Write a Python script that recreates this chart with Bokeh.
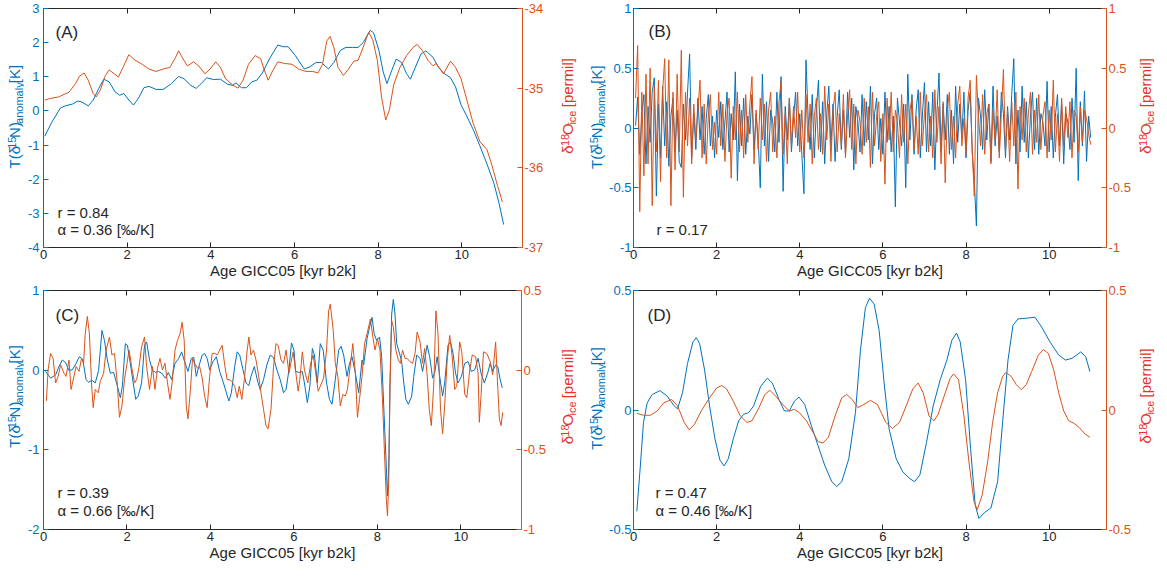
import math
import numpy as np
from bokeh.plotting import figure
from bokeh.models import (Range1d, LinearAxis, FixedTicker, Label, CustomJSTickFormatter,
                          CustomLabelingPolicy)
from bokeh.layouts import column, row
from bokeh.embed import file_html
from bokeh.resources import INLINE

FONT = "Liberation Sans"
BLUE = "#0072BD"
ORANGE = "#D95319"
DARK = "#262626"
LLAB = "#0072BD"
RLAB = "#E6332A"

# ---------------- data ----------------
AGE_TICKS = [0, 2, 4, 6, 8, 10]

# Panel A
a_blue_x = [0.03, 0.19, 0.4, 0.52, 0.69, 0.82, 0.9, 1.07, 1.19, 1.32, 1.44, 1.57, 1.71, 1.82, 1.92, 2.04, 2.15, 2.27, 2.4, 2.52,
            2.69, 2.86, 3.06, 3.23, 3.36, 3.52, 3.65, 3.77, 3.9, 4.06, 4.23, 4.4, 4.52, 4.6, 4.73, 4.85, 4.98, 5.1, 5.23, 5.4,
            5.6, 5.73, 5.85, 6.02, 6.23, 6.35, 6.52, 6.64, 6.81, 6.94, 7.1, 7.23, 7.39, 7.52, 7.64, 7.81, 7.89, 8.02, 8.12, 8.21,
            8.31, 8.43, 8.56, 8.68, 8.77, 8.89, 9.02, 9.14, 9.31, 9.43, 9.56, 9.73, 9.85, 9.98, 10.1, 10.27, 10.43, 10.6, 10.77, 10.89, 11.0]
a_blue_y = [-0.74, -0.35, 0.08, 0.15, 0.2, 0.29, 0.27, 0.15, 0.32, 0.66, 0.93, 0.85, 0.56, 0.46, 0.51, 0.32, 0.17, 0.37, 0.68, 0.72,
            0.63, 0.63, 0.8, 1.01, 0.94, 0.75, 0.66, 0.8, 0.97, 0.92, 0.93, 0.78, 0.75, 0.82, 0.68, 0.68, 0.85, 0.9, 1.11, 1.52,
            1.93, 1.88, 1.88, 1.62, 1.23, 1.28, 1.42, 1.42, 1.23, 1.42, 1.78, 1.86, 1.86, 1.86, 2.0, 2.36, 2.29, 1.76, 1.14, 0.8,
            1.14, 1.52, 1.42, 1.09, 0.93, 1.28, 1.66, 1.76, 1.57, 1.3, 1.11, 0.97, 0.7, 0.18, -0.11, -0.54, -1.02, -1.55, -2.13, -2.71, -3.33]
a_orange_x = [0.03, 0.15, 0.36, 0.61, 0.77, 0.86, 0.97, 1.07, 1.19, 1.26, 1.36, 1.48, 1.57, 1.69, 1.79, 1.9, 2.04, 2.19, 2.36, 2.52,
              2.69, 2.86, 3.02, 3.15, 3.23, 3.31, 3.44, 3.59, 3.71, 3.86, 3.98, 4.12, 4.23, 4.35, 4.52, 4.65, 4.77, 4.9, 5.06, 5.19,
              5.27, 5.37, 5.48, 5.6, 5.77, 5.94, 6.1, 6.27, 6.44, 6.56, 6.67, 6.77, 6.85, 6.94, 7.04, 7.17, 7.29, 7.42, 7.52, 7.64,
              7.77, 7.87, 7.98, 8.08, 8.18, 8.27, 8.37, 8.52, 8.68, 8.83, 8.93, 9.06, 9.19, 9.31, 9.39, 9.56, 9.73, 9.85, 9.98, 10.1,
              10.27, 10.43, 10.6, 10.72, 10.85, 10.97]
a_orange_y = [-35.15, -35.13, -35.11, -35.05, -34.94, -34.85, -34.81, -34.9, -35.07, -35.11, -35.02, -34.84, -34.77, -34.82, -34.86,
              -34.74, -34.58, -34.65, -34.7, -34.76, -34.79, -34.76, -34.74, -34.62, -34.53, -34.61, -34.72, -34.67, -34.72, -34.82,
              -34.76, -34.67, -34.74, -34.88, -34.96, -35.0, -34.9, -34.7, -34.59, -34.63, -34.76, -34.9, -34.78, -34.67, -34.69,
              -34.7, -34.76, -34.79, -34.79, -34.81, -34.7, -34.41, -34.35, -34.49, -34.74, -34.84, -34.76, -34.66, -34.65, -34.49,
              -34.3, -34.39, -34.65, -35.11, -35.4, -35.27, -34.96, -34.74, -34.59, -34.49, -34.45, -34.53, -34.65, -34.72, -34.69,
              -34.82, -34.66, -34.74, -34.88, -35.11, -35.44, -35.67, -35.77, -35.97, -36.22, -36.43]

# Panel B (20-yr resolution series, every 0.05 kyr from 0.05 to 11.0)
b_age = list(np.round(np.arange(1, 221) * 0.05, 2))
b_blue = [0.02, 0.26, -0.22, 0.12, 0.28, -0.30, 0.18, -0.12, 0.30, 0.42,
          -0.57, 0.20, -0.25, 0.35, -0.15, 0.22, -0.32, 0.10, 0.25, -0.20,
          0.15, -0.28, -0.33, 0.20, -0.10, 0.30, 0.62, -0.25, 0.12, -0.18,
          0.25, -0.10, 0.18, -0.22, 0.08, 0.28, -0.15, 0.10, -0.25, 0.15,
          -0.08, 0.22, -0.18, 0.05, 0.30, -0.20, 0.12, -0.10, 0.47, -0.44,
          0.20, -0.15, 0.25, -0.22, 0.10, -0.05, 0.28, -0.18, 0.12, -0.10,
          -0.50, 0.45, -0.15, 0.22, -0.28, 0.15, 0.05, -0.20, 0.30, -0.12,
          0.43, -0.53, 0.18, -0.10, 0.25, -0.20, 0.08, 0.30, -0.15, 0.12,
          -0.22, -0.55, 0.57, 0.10, -0.18, 0.28, -0.25, 0.15, 0.40, -0.20,
          0.22, -0.30, 0.12, 0.35, -0.15, 0.20, -0.28, 0.10, 0.32, -0.18,
          0.15, -0.22, 0.30, -0.08, 0.25, -0.35, 0.18, 0.05, -0.20, 0.28,
          -0.15, 0.22, -0.10, 0.35, -0.30, 0.12, 0.25, -0.18, 0.08, -0.22,
          0.30, -0.12, 0.18, -0.20, 0.10, -0.66, 0.25, 0.05, -0.15, 0.20,
          -0.50, 0.45, -0.10, 0.28, -0.22, 0.15, 0.32, -0.25, 0.10, 0.38,
          -0.20, 0.22, -0.15, 0.30, -0.35, 0.12, 0.46, -0.18, 0.20, -0.10,
          0.28, -0.22, 0.15, -0.30, 0.35, -0.12, 0.20, -0.08, 0.30, -0.25,
          0.15, 0.30, -0.20, -0.45, -0.82, 0.25, 0.10, -0.18, 0.32, -0.10,
          0.20, -0.28, 0.35, -0.15, 0.10, -0.20, 0.30, 0.12, -0.25, 0.18,
          -0.10, 0.28, 0.58, -0.30, 0.15, -0.20, 0.35, -0.12, 0.22, -0.25,
          0.10, 0.30, -0.18, 0.25, -0.22, 0.12, 0.05, -0.15, 0.39, -0.20,
          0.18, -0.25, 0.10, 0.28, -0.15, 0.22, -0.30, 0.12, 0.05, -0.18,
          0.25, -0.12, 0.50, -0.44, 0.22, -0.15, 0.31, -0.28, 0.10, -0.08]
b_orange = [0.25, 0.69, -0.70, 0.30, -0.40, 0.45, -0.30, 0.50, -0.65, 0.35,
            -0.20, 0.40, -0.45, 0.30, 0.58, -0.25, 0.57, -0.65, 0.30, -0.35,
            0.45, -0.20, 0.65, -0.58, 0.30, -0.15, 0.25, -0.30, 0.20, -0.10,
            0.15, 0.40, -0.25, 0.20, -0.30, 0.10, 0.28, -0.18, 0.05, -0.22,
            0.30, -0.15, 0.20, -0.28, 0.12, 0.25, -0.42, 0.18, -0.10, 0.30,
            -0.20, 0.15, -0.25, 0.28, -0.12, 0.20, 0.43, -0.30, 0.15, -0.18,
            0.25, -0.10, 0.20, -0.28, 0.15, 0.30, -0.20, 0.10, -0.25, 0.22,
            0.39, -0.22, 0.12, -0.30, 0.25, -0.15, 0.18, -0.08, 0.30, -0.20,
            0.15, -0.25, 0.28, -0.12, 0.20, -0.30, 0.10, 0.25, -0.18, 0.12,
            -0.22, 0.35, -0.10, 0.20, -0.28, 0.15, 0.30, -0.20, 0.12, -0.15,
            0.28, -0.25, 0.10, 0.32, -0.18, 0.20, -0.30, 0.15, 0.05, -0.22,
            0.25, -0.12, 0.18, -0.33, 0.30, -0.15, 0.10, 0.22, -0.28, 0.12,
            -0.47, 0.25, -0.10, 0.30, -0.20, 0.15, 0.05, -0.25, 0.28, -0.12,
            0.20, -0.30, 0.15, 0.25, -0.18, 0.10, -0.22, 0.30, -0.15, 0.12,
            0.28, -0.20, 0.10, -0.25, 0.32, -0.12, 0.18, -0.30, 0.22, -0.46,
            0.15, 0.30, -0.18, 0.10, -0.25, 0.20, 0.35, -0.15, 0.08, -0.22,
            0.25, 0.40, -0.20, -0.57, 0.44, 0.10, -0.15, 0.28, -0.22, 0.12,
            0.20, -0.30, 0.15, -0.10, 0.32, -0.25, 0.12, 0.49, -0.20, 0.15,
            -0.28, 0.22, -0.15, 0.30, -0.51, 0.18, -0.10, 0.25, -0.20, 0.12,
            0.30, -0.22, 0.15, -0.12, 0.28, -0.18, 0.10, 0.22, -0.25, 0.15,
            -0.10, 0.40, -0.20, 0.12, -0.28, 0.25, -0.15, 0.18, -0.08, 0.22,
            -0.25, 0.15, 0.10, -0.20, 0.18, -0.12, 0.15, 0.08, -0.05, -0.14]

# Panel C
c_blue_x = [0.05, 0.17, 0.29, 0.37, 0.45, 0.53, 0.61, 0.69, 0.78, 0.86, 0.94, 1.02, 1.08, 1.16, 1.24, 1.32, 1.4, 1.46, 1.53, 1.6,
            1.68, 1.76, 1.84, 1.89, 1.96, 2.01, 2.08, 2.16, 2.21, 2.27, 2.35, 2.42, 2.47, 2.54, 2.61, 2.69, 2.75, 2.83, 2.92, 2.99,
            3.07, 3.15, 3.24, 3.31, 3.38, 3.46, 3.54, 3.6, 3.66, 3.72, 3.8, 3.86, 3.92, 3.98, 4.06, 4.14, 4.22, 4.3, 4.38, 4.44,
            4.5, 4.58, 4.64, 4.7, 4.77, 4.85, 4.92, 4.97, 5.05, 5.13, 5.19, 5.27, 5.35, 5.43, 5.51, 5.59, 5.67, 5.75, 5.81,
            5.88, 5.94, 6.0, 6.04, 6.12, 6.2, 6.25, 6.32, 6.38, 6.44, 6.49, 6.56, 6.63, 6.7, 6.78, 6.85, 6.91, 6.99, 7.07, 7.13,
            7.19, 7.27, 7.33, 7.39, 7.47, 7.55, 7.63, 7.67, 7.75, 7.81, 7.87, 7.92, 7.98, 8.05, 8.1, 8.16, 8.21, 8.24, 8.27, 8.3,
            8.34, 8.38, 8.42, 8.46, 8.54, 8.58, 8.63, 8.68, 8.74, 8.82, 8.87, 8.94, 9.02, 9.08, 9.13, 9.19, 9.25, 9.32, 9.37, 9.43,
            9.49, 9.56, 9.61, 9.69, 9.75, 9.81, 9.87, 9.93, 10.01, 10.09, 10.17, 10.25, 10.33, 10.41, 10.48, 10.56, 10.64, 10.7,
            10.76, 10.83, 10.88, 10.94, 10.99]
c_blue_y = [-0.016, -0.1, -0.06, 0.045, 0.128, 0.095, -0.004, 0.004, 0.086, 0.169, 0.136, -0.119, -0.152, -0.128, -0.16,
            -0.004, 0.498, 0.374, 0.128, -0.037, -0.029, -0.181, -0.346, -0.2, 0.333, 0.313, 0.086, -0.2, -0.366, -0.325,
            -0.16, 0.313, 0.354, 0.128, -0.004, -0.029, -0.016, -0.037, -0.1, -0.029, -0.119, 0.086, 0.148, 0.23, 0.107,
            -0.016, 0.148, 0.16, -0.078, 0.045, 0.189, 0.21, 0.148, 0.004, 0.107, 0.169, -0.016, -0.14, -0.284, -0.387,
            -0.284, 0.045, 0.23, 0.189, 0.025, -0.16, -0.193, -0.078, 0.045, -0.14, -0.243, -0.119, 0.066, 0.189, 0.16,
            0.004, -0.119, -0.284, -0.243,
            0.004, 0.342, 0.251, -0.016, -0.029, -0.016, -0.16, -0.407, -0.2, 0.272, 0.189, -0.16, 0.333, 0.251, -0.16,
            -0.366, -0.428, -0.119, 0.251, 0.3, 0.189, -0.078, 0.086, 0.169, -0.037, -0.284, 0.128, 0.066, 0.395, 0.539,
            0.663, 0.457, 0.374, 0.416, 0.169, -0.572, -1.189, -1.58, -1.23, -0.16, 0.704, 0.889, 0.704, 0.333, 0.189,
            0.107, -0.16, -0.366, -0.428, -0.325, -0.078, 0.189, 0.148, -0.016, 0.128, 0.313, 0.169, -0.1, -0.037, 0.169,
            -0.078, -0.325, -0.16, 0.313, 0.354, 0.21, -0.037, -0.16, -0.078, 0.086, 0.107, -0.016, 0.004, 0.148, -0.037,
            -0.16, -0.037, 0.086, -0.016, 0.066, 0.045, -0.119, -0.222]
c_orange_x = [0.07, 0.11, 0.17, 0.23, 0.29, 0.35, 0.41, 0.49, 0.54, 0.61, 0.66, 0.73, 0.78, 0.85, 0.91, 0.96, 1.0, 1.05, 1.1, 1.15,
              1.19, 1.24, 1.31, 1.36, 1.44, 1.5, 1.58, 1.64, 1.7, 1.76, 1.82, 1.88, 1.94, 2.0, 2.05, 2.11, 2.18, 2.23, 2.29, 2.35,
              2.42, 2.47, 2.54, 2.61, 2.67, 2.73, 2.79, 2.85, 2.91, 2.97, 3.03, 3.08, 3.15, 3.21, 3.27, 3.32, 3.37, 3.42, 3.46, 3.52,
              3.57, 3.62, 3.69, 3.74, 3.8, 3.86, 3.92, 3.98, 4.04, 4.1, 4.16, 4.22, 4.28, 4.34, 4.4, 4.46, 4.51, 4.58, 4.64, 4.69,
              4.75, 4.81, 4.88, 4.92, 4.97, 5.03, 5.09, 5.15, 5.21, 5.27, 5.33, 5.38, 5.45, 5.51, 5.57, 5.62, 5.69, 5.75, 5.81,
              5.88, 5.94, 5.98, 6.04, 6.1, 6.14, 6.2, 6.25, 6.33, 6.4, 6.46, 6.52, 6.58, 6.63, 6.71, 6.78, 6.83, 6.87, 6.94, 6.99,
              7.05, 7.11, 7.17, 7.23, 7.28, 7.35, 7.41, 7.47, 7.52, 7.57, 7.63, 7.69, 7.75, 7.83, 7.89, 7.94, 8.0, 8.06, 8.12, 8.17,
              8.21, 8.24, 8.27, 8.3, 8.34, 8.38, 8.44, 8.5, 8.55, 8.6, 8.66, 8.71, 8.78, 8.84, 8.9, 8.95, 9.02, 9.08, 9.13, 9.19,
              9.24, 9.29, 9.35, 9.4, 9.45, 9.51, 9.56, 9.61, 9.67, 9.73, 9.79, 9.85, 9.9, 9.97, 10.02, 10.09, 10.14, 10.21, 10.27,
              10.35, 10.41, 10.44, 10.48, 10.54, 10.62, 10.7, 10.76, 10.83, 10.88, 10.92, 10.96, 11.0]
c_orange_y = [-0.193, 0.002, 0.105, 0.074, -0.08, -0.039, 0.033, -0.019, -0.039, 0.064, -0.121, -0.039, 0.023, -0.008, 0.074,
              0.043, 0.228, 0.337, 0.228, -0.08, -0.235, -0.121, -0.142, -0.07, -0.019, 0.126, 0.208, 0.095, 0.105, -0.06,
              -0.296, -0.224, -0.06, 0.043, 0.126, 0.023, -0.08, -0.06, 0.023, 0.146, 0.208, 0.023, -0.121, 0.023, -0.121,
              0.012, 0.074, 0.002, 0.043, -0.08, -0.183, -0.08, 0.126, 0.187, 0.228, 0.3, 0.187, -0.224, -0.306, -0.121,
              0.074, 0.043, 0.012, 0.023, -0.049, -0.163, -0.235, -0.039, 0.105, 0.105, 0.095, 0.126, 0.156, 0.033, -0.06,
              -0.06, -0.07, -0.101, -0.173, -0.101, -0.183, -0.06, 0.126, 0.208, 0.095, 0.126, 0.064, -0.029, -0.142, -0.245,
              -0.348, -0.368, -0.245, 0.023, 0.167, 0.156, 0.064, 0.043, 0.126,
              -0.019, 0.064, 0.115, -0.008, -0.132, -0.06, 0.115, 0.002, -0.08, 0.043, 0.095, -0.019, -0.132, -0.101, -0.049,
              0.126, 0.372, 0.414, 0.249, 0.043, -0.039, -0.224, -0.152, -0.163, -0.121, 0.033, 0.167, -0.019, -0.296, -0.183,
              -0.039, 0.167, 0.228, 0.321, 0.208, 0.126, 0.198, 0.126, -0.183, -0.533, -0.8, -0.914, -0.698, -0.121, 0.311,
              0.27, 0.126, 0.064, 0.043, 0.126, 0.074, 0.074, 0.053, 0.043, 0.105, 0.239, 0.177, 0.043, 0.136, -0.029,
              -0.245, -0.348, -0.08, 0.372, 0.228, -0.245, -0.399, -0.224, 0.064, 0.218, 0.084, -0.121, -0.101, 0.177, 0.115,
              -0.152, -0.173, 0.002, 0.095, 0.084, -0.019, -0.327, -0.163, 0.115, 0.105, 0.053, -0.029, 0.177, -0.101, -0.306,
              -0.348, -0.265]

# Panel D
d_blue_x = [0.08, 0.16, 0.24, 0.33, 0.45, 0.64, 0.81, 0.98, 1.06, 1.18, 1.3, 1.43, 1.51, 1.59, 1.71, 1.83, 1.96, 2.08, 2.18, 2.28,
            2.4, 2.53, 2.65, 2.77, 2.89, 3.06, 3.22, 3.34, 3.5, 3.63, 3.75, 3.87, 3.98, 4.12, 4.28, 4.44, 4.6, 4.77, 4.89, 5.01,
            5.18, 5.34, 5.46, 5.58, 5.68, 5.79, 5.91, 6.03, 6.15, 6.32, 6.48, 6.64, 6.76, 6.89, 7.05, 7.21, 7.38, 7.54, 7.66, 7.77,
            7.86, 7.99, 8.11, 8.22, 8.31, 8.44, 8.6, 8.76, 8.88, 9.01, 9.13, 9.25, 9.45, 9.66, 9.82, 10.02, 10.23, 10.39, 10.55,
            10.76, 10.88, 10.98]
d_blue_y = [-0.424, -0.245, -0.052, 0.03, 0.065, 0.081, 0.058, 0.017, 0.005, 0.072, 0.195, 0.285, 0.303, 0.278, 0.168, 0.017,
            -0.121, -0.21, -0.234, -0.204, -0.121, -0.045, -0.018, -0.011, 0.017, 0.099, 0.133, 0.113, 0.044, -0.004, -0.004,
            0.037, 0.054, 0.023, -0.066, -0.149, -0.231, -0.3, -0.32, -0.3, -0.204, -0.011, 0.25, 0.429, 0.468, 0.443, 0.333,
            0.113, -0.08, -0.204, -0.259, -0.286, -0.3, -0.272, -0.135, 0.017, 0.127, 0.209, 0.292, 0.322, 0.285, 0.127,
            -0.162, -0.396, -0.454, -0.43, -0.41, -0.3, -0.052, 0.209, 0.354, 0.381, 0.384, 0.388, 0.347, 0.285, 0.23, 0.209,
            0.216, 0.243, 0.223, 0.161]
d_orange_x = [0.08, 0.24, 0.41, 0.57, 0.73, 0.92, 1.06, 1.22, 1.34, 1.47, 1.63, 1.83, 2.0, 2.12, 2.24, 2.4, 2.57, 2.73, 2.85, 3.02,
              3.16, 3.28, 3.42, 3.59, 3.75, 3.87, 3.99, 4.16, 4.32, 4.44, 4.56, 4.69, 4.85, 5.01, 5.13, 5.26, 5.4, 5.54, 5.7, 5.87,
              6.07, 6.23, 6.4, 6.56, 6.72, 6.85, 6.97, 7.11, 7.23, 7.33, 7.5, 7.62, 7.7, 7.82, 7.95, 8.07, 8.19, 8.27, 8.39, 8.52,
              8.64, 8.76, 8.88, 8.96, 9.09, 9.21, 9.33, 9.45, 9.58, 9.74, 9.86, 9.98, 10.11, 10.23, 10.35, 10.47, 10.6, 10.72,
              10.86, 10.98]
d_orange_y = [-0.014, -0.022, -0.022, -0.004, 0.03, 0.044, 0.017, -0.052, -0.083, -0.059, -0.004, 0.051, 0.092, 0.102, 0.088,
              0.037, -0.025, -0.052, -0.045, 0.01, 0.065, 0.083, 0.058, 0.023, -0.004, 0.003, -0.011, -0.045, -0.094, -0.132,
              -0.138, -0.114, -0.025, 0.051, 0.065, 0.044, 0.01, 0.023, 0.04, 0.023, -0.052, -0.077, -0.052, 0.017, 0.088,
              0.113, 0.072, -0.025, -0.045, -0.018, 0.072, 0.133, 0.151, 0.127, -0.025, -0.217, -0.382, -0.417, -0.355,
              -0.217, -0.052, 0.072, 0.14, 0.157, 0.14, 0.106, 0.085, 0.106, 0.161, 0.23, 0.253, 0.237, 0.168, 0.072,
              -0.004, -0.045, -0.056, -0.073, -0.1, -0.114]

panel_letters = ["(A)", "(B)", "(C)", "(D)"]
r_texts = ["r = 0.84", "r = 0.17", "r = 0.39", "r = 0.47"]
alpha_texts = ["α = 0.36 [‰/K]", None, "α = 0.66 [‰/K]", "α = 0.46 [‰/K]"]
x_label = "Age GICC05 [kyr b2k]"

# ---------------- helpers ----------------
CW = {'T': .611, '(': .333, ')': .333, 'δ': .556, 'N': .722, 'O': .778, 'K': .667, '[': .278, ']': .278, ' ': .33,
      'a': .556, 'n': .556, 'o': .556, 'm': .833, 'l': .222, 'y': .5, 'i': .222, 'c': .5, 'e': .556, 'p': .556, 'r': .333}
GAP = 0.7  # small extra advance between pieces (px)


def tw(s, size):
    return sum(CW.get(c, .556) for c in s) * size + GAP


FMT = CustomJSTickFormatter(code="return tick.toString();")
NO_LABELS = CustomLabelingPolicy(code="for (const i of indices) indices.unset(i)")

MAIN = 15
SMALL = 11
SUP = 3.0
SUB = -4.0
LEFT_PARTS = [("T(δ", MAIN, 0), ("15", SMALL, SUP), ("N)", MAIN, 0), ("anomaly", SMALL, SUB), (" ", MAIN, 0), ("[K]", MAIN, 0)]
RIGHT_PARTS = [("δ", MAIN, 0), ("18", SMALL, SUP), ("O", MAIN, 0), ("ice", SMALL, SUB), (" ", MAIN, 0), ("[permil]", MAIN, 0)]


def style_axis(ax, color, lcolor, ticks, standoff):
    ax.ticker = FixedTicker(ticks=ticks)
    ax.formatter = FMT
    ax.axis_line_color = color
    ax.axis_line_width = 1
    ax.major_tick_line_color = color
    ax.major_tick_in = 5
    ax.major_tick_out = 0
    ax.minor_tick_line_color = None
    ax.major_label_text_color = lcolor
    ax.major_label_text_font = FONT
    ax.major_label_text_font_size = "13px"
    ax.major_label_standoff = standoff


def make_panel(idx, width, height, bl, br, bt, bb, xmax, yl, yr, ylt, yrt, lx, ly, rx, ry,
               letter_off, r_off, a_off, ystand):
    p = figure(width=width, height=height, output_backend="svg", toolbar_location=None, tools="",
               x_range=Range1d(0, xmax), y_range=Range1d(*yl),
               min_border_left=bl, min_border_right=br, min_border_top=bt, min_border_bottom=bb)
    p.extra_y_ranges = {"r": Range1d(*yr)}
    p.outline_line_color = None
    p.grid.visible = False
    p.background_fill_color = "white"
    p.border_fill_color = "white"

    xa = p.xaxis[0]
    style_axis(xa, DARK, DARK, AGE_TICKS, 2)
    xa.axis_label = x_label
    xa.axis_label_text_font = FONT
    xa.axis_label_text_font_size = "15px"
    xa.axis_label_text_font_style = "normal"
    xa.axis_label_text_color = DARK
    xa.axis_label_standoff = 0

    ya = p.yaxis[0]
    style_axis(ya, BLUE, BLUE, ylt, ystand)

    ra = LinearAxis(y_range_name="r")
    style_axis(ra, ORANGE, ORANGE, yrt, 2)
    p.add_layout(ra, "right")

    ta = LinearAxis()
    style_axis(ta, DARK, DARK, AGE_TICKS, 0)
    ta.major_label_text_font_size = "0px"
    ta.major_label_policy = NO_LABELS
    p.add_layout(ta, "above")

    p.line(lx, ly, line_color=BLUE, line_width=1)
    p.line(rx, ry, line_color=ORANGE, line_width=1, y_range_name="r")

    p.add_layout(Label(x=0, y=yl[1], x_offset=letter_off[0], y_offset=-letter_off[1], text=panel_letters[idx],
                       text_font=FONT, text_font_size="17px", text_color=DARK, text_baseline="middle"))
    p.add_layout(Label(x=0, y=yl[0], x_offset=r_off[0], y_offset=r_off[1], text=r_texts[idx],
                       text_font=FONT, text_font_size="15px", text_color=DARK, text_baseline="middle"))
    if alpha_texts[idx]:
        p.add_layout(Label(x=0, y=yl[0], x_offset=a_off[0], y_offset=a_off[1], text=alpha_texts[idx],
                           text_font=FONT, text_font_size="15px", text_color=DARK, text_baseline="middle"))
    return p


def strip(width, height, labels):
    """A frameless strip that carries rotated axis titles (with super/subscripts)."""
    s = figure(width=width, height=height, output_backend="svg", toolbar_location=None, tools="",
               x_range=Range1d(0, width), y_range=Range1d(0, height),
               x_axis_type=None, y_axis_type=None, min_border=0,
               min_border_left=0, min_border_right=0, min_border_top=0, min_border_bottom=0)
    s.outline_line_color = None
    s.background_fill_color = "white"
    s.border_fill_color = "white"
    for parts, base_x, center_y, color in labels:
        total = sum(tw(t, sz) for t, sz, _ in parts)
        y0 = center_y - total / 2.0
        for t, sz, rise in parts:
            if t.strip():
                s.add_layout(Label(x=base_x - rise, y=y0, text=t, angle=math.pi / 2,
                                   text_align="left", text_baseline="alphabetic", text_font=FONT,
                                   text_font_size=f"{sz}px", text_color=color))
            y0 += tw(t, sz)
    return s


H1, H2 = 282, 285
pA = make_panel(0, 524, H1, 17, 26, 8, 35, 11.45, (-4, 3), (-37, -34),
                [-4, -3, -2, -1, 0, 1, 2, 3], [-37, -36, -35, -34],
                a_blue_x, a_blue_y, a_orange_x, a_orange_y,
                (12, 23.5), (14, 35), (14, 18.5), 4)
pB = make_panel(1, 527, H1, 25, 25, 8, 35, 11.38, (-1, 1), (-1, 1),
                [-1, -0.5, 0, 0.5, 1], [-1, -0.5, 0, 0.5, 1],
                b_age, b_blue, b_age, b_orange,
                (15, 22.5), (23, 18), (23, 0), 2)
pC = make_panel(2, 524, H2, 17, 26, 8, 38, 11.45, (-2, 1), (-1, 0.5),
                [-2, -1, 0, 1], [-1, -0.5, 0, 0.5],
                c_blue_x, c_blue_y, c_orange_x, c_orange_y,
                (12, 25), (14, 37), (14, 19), 4)
pD = make_panel(3, 527, H2, 25, 25, 8, 38, 11.38, (-0.5, 0.5), (-0.5, 0.5),
                [-0.5, 0, 0.5], [-0.5, 0, 0.5],
                d_blue_x, d_blue_y, d_orange_x, d_orange_y,
                (14, 25), (22, 37), (22, 19), 2)

# rotated axis titles in the gutters between panels
sLA = strip(24, H1, [(LEFT_PARTS, 14.3, 153, LLAB)])
sM1 = strip(58, H1, [(RIGHT_PARTS, 19, 163, RLAB), (LEFT_PARTS, 48.3, 152.5, LLAB)])
sRB = strip(22, H1, [(RIGHT_PARTS, 12, 163, RLAB)])
sLC = strip(24, H2, [(LEFT_PARTS, 14.3, 157.3, LLAB)])
sM2 = strip(58, H2, [(RIGHT_PARTS, 19, 154, RLAB), (LEFT_PARTS, 48.3, 155, LLAB)])
sRD = strip(22, H2, [(RIGHT_PARTS, 12, 155, RLAB)])

layout = column(row(sLA, pA, sM1, pB, sRB), row(sLC, pC, sM2, pD, sRD))
open("out.html", "w").write(file_html(layout, INLINE))
